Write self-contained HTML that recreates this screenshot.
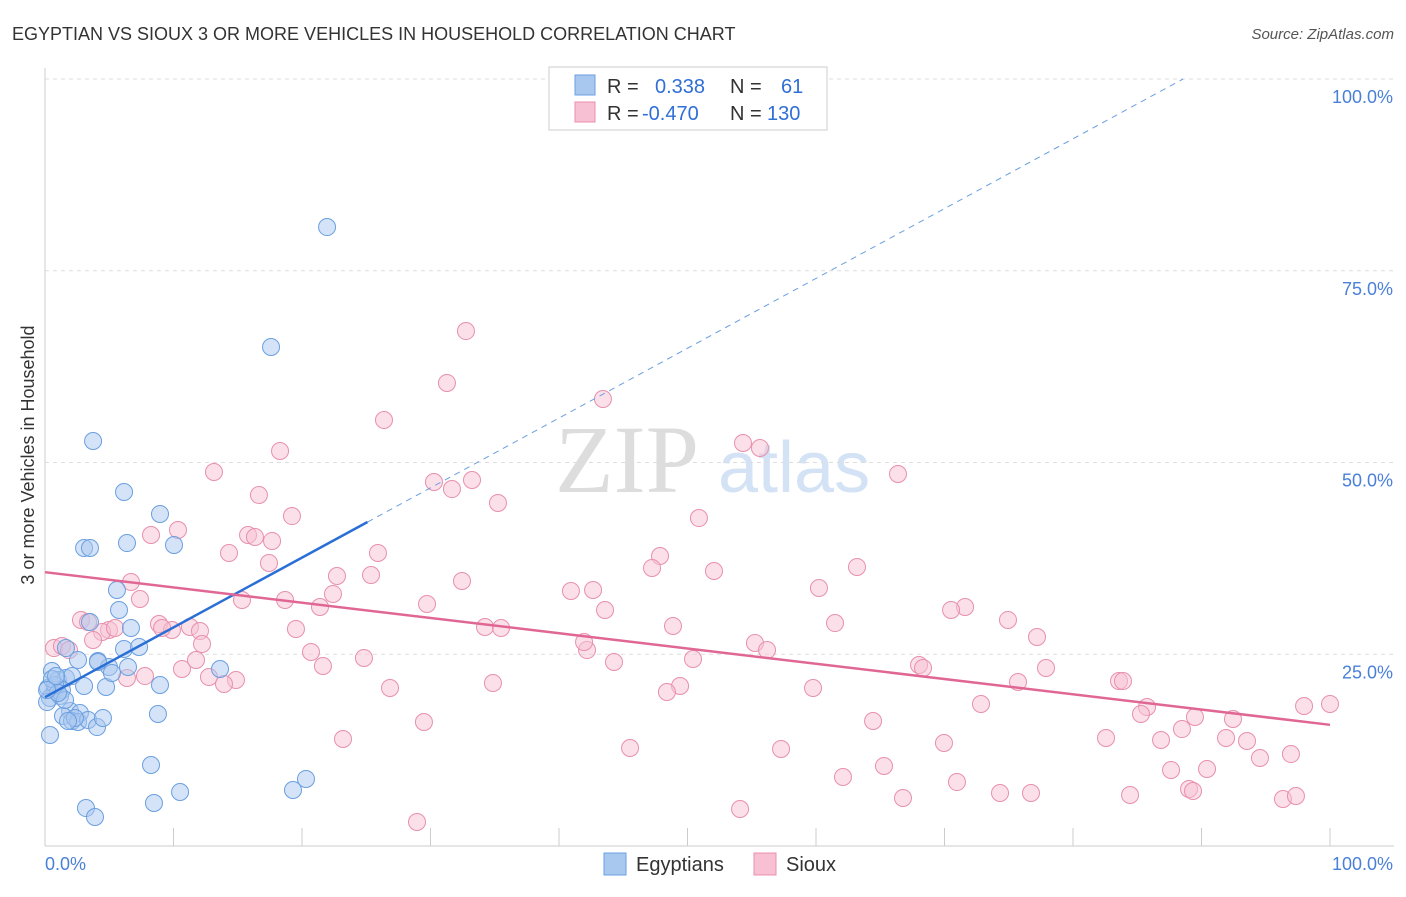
<!DOCTYPE html>
<html><head><meta charset="utf-8"><style>
body{margin:0;background:#fff;font-family:"Liberation Sans",sans-serif}
</style></head><body>
<svg id="chart" width="1406" height="892" xmlns="http://www.w3.org/2000/svg" font-family="Liberation Sans, sans-serif">
<text x="12" y="40" font-size="18" fill="#333">EGYPTIAN VS SIOUX 3 OR MORE VEHICLES IN HOUSEHOLD CORRELATION CHART</text>
<text x="1394" y="39" font-size="15" fill="#555" font-style="italic" text-anchor="end">Source: ZipAtlas.com</text>
<text x="555" y="492" font-size="96" fill="#ddd" font-family="Liberation Serif, serif">ZIP</text>
<text x="718" y="492" font-size="72" fill="#d3e2f5">atlas</text>
<text transform="translate(34,455) rotate(-90)" font-size="18" fill="#333" text-anchor="middle">3 or more Vehicles in Household</text>
<g id="grid"></g><g id="marks"></g><g id="lines"></g>
<g>
<rect x="549" y="67" width="278" height="63" fill="#fff" stroke="#ccc"/>
<rect x="575" y="75" width="20" height="20" fill="#a9c8f0" stroke="#6a9fe0"/>
<rect x="575" y="102" width="20" height="20" fill="#f7c1d3" stroke="#e890ac"/>
<text x="607" y="93" font-size="20" fill="#333">R = <tspan fill="#2f6fd6" x="655">0.338</tspan><tspan x="730" fill="#333">N =</tspan><tspan x="781" fill="#2f6fd6">61</tspan></text>
<text x="607" y="120" font-size="20" fill="#333">R = <tspan fill="#2f6fd6" x="642">-0.470</tspan><tspan x="730" fill="#333">N =</tspan><tspan x="767" fill="#2f6fd6">130</tspan></text>
</g>
<g>
<rect x="604" y="853" width="22" height="22" fill="#a9c8f0" stroke="#6a9fe0"/>
<text x="636" y="871" font-size="20" fill="#333">Egyptians</text>
<rect x="754" y="853" width="22" height="22" fill="#f7c1d3" stroke="#e890ac"/>
<text x="786" y="871" font-size="20" fill="#333">Sioux</text>
</g>
</svg>
<script>
const yTicks=[25,50,75,100];
const yTickLabels=["25.0%","50.0%","75.0%","100.0%"];
const xTicks=[0,10,20,30,40,50,60,70,80,90,100];
const bluePx=[[327,227],[271,347],[93,441],[124,492],[160,514],[127,543],[84,548],[90,548],[174,545],[117,590],[119,610],[90,622],[131,628],[124,649],[139,647],[66,648],[78,660],[98,661],[109,667],[128,667],[52,671],[58,680],[66,678],[72,676],[48,688],[55,690],[62,690],[84,686],[106,687],[160,685],[220,669],[98,662],[112,673],[50,698],[60,696],[70,711],[80,713],[63,716],[72,721],[78,722],[88,720],[97,727],[103,718],[158,714],[50,735],[151,765],[306,779],[293,790],[180,792],[154,803],[86,808],[95,817],[55,685],[65,700],[47,702],[52,679],[58,693],[75,718],[68,721],[47,690],[56,676]];
const pinkPx=[[466,331],[447,383],[384,420],[603,399],[280,451],[743,443],[760,448],[898,474],[214,472],[259,495],[434,482],[452,489],[472,480],[498,503],[292,516],[699,518],[178,530],[151,535],[248,535],[255,537],[272,541],[229,553],[269,563],[378,553],[660,556],[652,568],[714,571],[857,567],[131,582],[337,576],[371,575],[462,581],[571,591],[593,590],[819,588],[242,600],[285,600],[320,607],[333,594],[427,604],[605,610],[140,599],[965,607],[951,610],[1008,620],[1037,637],[835,623],[673,626],[485,627],[501,628],[81,620],[88,622],[109,630],[102,632],[115,628],[159,624],[172,630],[190,627],[200,631],[162,628],[296,629],[54,648],[62,646],[69,650],[93,640],[202,644],[311,652],[587,650],[584,642],[755,643],[767,650],[364,658],[614,662],[693,659],[919,665],[923,668],[1046,668],[182,669],[196,660],[323,666],[209,677],[236,680],[127,678],[145,676],[224,684],[390,688],[493,683],[680,686],[667,692],[813,688],[1018,682],[1119,681],[1123,681],[981,704],[1147,707],[1141,714],[1195,717],[1233,719],[1304,706],[1330,704],[873,721],[1182,729],[424,722],[1106,738],[1161,740],[1226,738],[1247,741],[944,743],[630,748],[781,749],[1291,754],[1260,758],[884,766],[1171,770],[1207,769],[843,777],[957,782],[1189,789],[1193,791],[1031,793],[1130,795],[903,798],[1283,799],[1296,796],[740,809],[417,822],[343,739],[1000,793]];
// data values (percent)
const blueX=bluePx.map(p=>+((p[0]-45)/12.85).toFixed(2));
const blueY=bluePx.map(p=>+((846-p[1])/7.67).toFixed(2));
const pinkX=pinkPx.map(p=>+((p[0]-45)/12.85).toFixed(2));
const pinkY=pinkPx.map(p=>+((846-p[1])/7.67).toFixed(2));
const blueTrend=[19.4,0.91]; // intercept, slope
const pinkTrend=[35.7,-0.199];
const sx=v=>45+v*12.85, sy=v=>846-v*7.67;
const NS="http://www.w3.org/2000/svg";
function mk(tag,attrs,parent){const e=document.createElementNS(NS,tag);for(const k in attrs)e.setAttribute(k,attrs[k]);parent.appendChild(e);return e;}
const grid=document.getElementById('grid'),marks=document.getElementById('marks'),lines=document.getElementById('lines');
let ax=mk('line',{x1:45,y1:68,x2:45,y2:846,stroke:'#ccc'},grid);


let bx=mk('line',{x1:45,y1:846,x2:1394,y2:846,stroke:'#ccc'},grid);


yTicks.forEach((t,i)=>{
 const g=mk('line',{x1:45,y1:sy(t),x2:1394,y2:sy(t),stroke:'#ddd','stroke-dasharray':'4,4'},grid);
 
 
 const l=mk('text',{x:1393,y:sy(t)+24,'font-size':18,fill:'#4a80d8','text-anchor':'end'},grid);l.textContent=yTickLabels[i];
 
 
});
xTicks.forEach(t=>{if(t===0)return;const k=mk('line',{x1:sx(t),y1:828,x2:sx(t),y2:846,stroke:'#ccc'},grid);
 
 });
let x0=mk('text',{x:45,y:870,'font-size':18,fill:'#4a80d8'},grid);x0.textContent='0.0%';


let x1=mk('text',{x:1393,y:870,'font-size':18,fill:'#4a80d8','text-anchor':'end'},grid);x1.textContent='100.0%';


pinkX.forEach((x,i)=>{const c=mk('circle',{cx:sx(x),cy:sy(pinkY[i]),r:8.5,fill:'#f7c1d3','fill-opacity':0.5,stroke:'#e890ac','stroke-width':1},marks);
 
 });
blueX.forEach((x,i)=>{const c=mk('circle',{cx:sx(x),cy:sy(blueY[i]),r:8.5,fill:'#a9c8f0','fill-opacity':0.5,stroke:'#6a9fe0','stroke-width':1},marks);
 
 });
const bEnd=25.1, bDash=(100-blueTrend[0])/blueTrend[1];
let bl=mk('line',{x1:sx(0),y1:sy(blueTrend[0]),x2:sx(bEnd),y2:sy(blueTrend[0]+blueTrend[1]*bEnd),stroke:'#2a6fd6','stroke-width':2.5},lines);


let bd=mk('line',{x1:sx(bEnd),y1:sy(blueTrend[0]+blueTrend[1]*bEnd),x2:sx(bDash),y2:sy(100),stroke:'#6a9fe0','stroke-width':1,'stroke-dasharray':'6,5'},lines);


let pl=mk('line',{x1:sx(0),y1:sy(pinkTrend[0]),x2:sx(100),y2:sy(pinkTrend[0]+pinkTrend[1]*100),stroke:'#e06794','stroke-width':2.5},lines);


</script>
</body></html>
